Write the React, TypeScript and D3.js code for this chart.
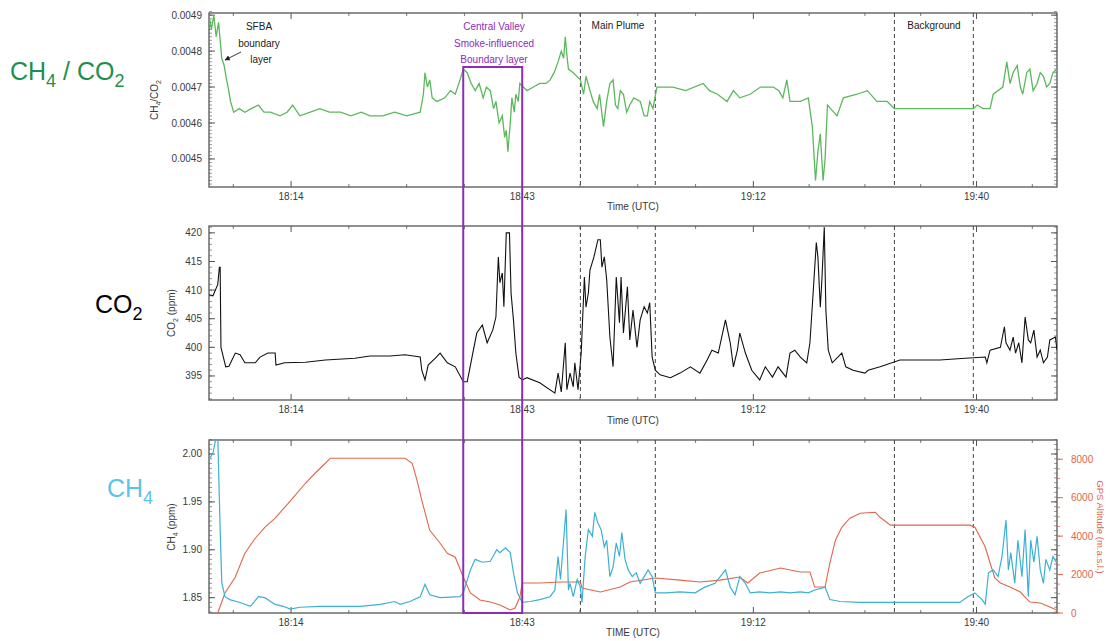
import React from 'react';
import * as d3 from 'd3';

// minutes after 18:00 UTC
const timeTicks = [14, 43, 72, 100];
const timeLabels = ['18:14', '18:43', '19:12', '19:40'];
const minorTimeTicks = [6.75, 21.25, 28.5, 35.75, 50.25, 57.5, 64.75, 79, 86, 93, 107];

const ratioTicks = [0.0045, 0.0046, 0.0047, 0.0048, 0.0049];
const co2Ticks = [395, 400, 405, 410, 415, 420];
const ch4Ticks = [1.85, 1.9, 1.95, 2.0];
const altTicks = [0, 2000, 4000, 6000, 8000];

const eventLines = [50.3, 59.7, 89.7, 99.6];
const smokeBox = [35.6, 43.0];

const ratioSeries: [number, number][] = [
  [3.7, 0.0049], [4.0, 0.00486], [4.3, 0.0049], [4.6, 0.00484], [4.9, 0.00488], [5.3, 0.00478],
  [5.6, 0.00476], [5.9, 0.00472], [6.1, 0.0047], [6.4, 0.00466], [6.8, 0.00463], [7.5, 0.00464],
  [8.2, 0.00463], [9.0, 0.00464], [9.9, 0.00465], [10.6, 0.00463], [11.4, 0.00463], [12.6, 0.00462],
  [13.5, 0.00463], [14.2, 0.00465], [15.1, 0.00462], [16.4, 0.00463], [17.6, 0.00464], [18.8, 0.00463],
  [20.2, 0.00463], [21.5, 0.00462], [22.8, 0.00463], [23.9, 0.00462], [25.5, 0.00462], [27.0, 0.00463],
  [28.5, 0.00462], [30.2, 0.00463], [30.6, 0.00468], [30.8, 0.00474], [31.1, 0.0047], [31.4, 0.00472],
  [31.7, 0.00467], [32.3, 0.00466], [33.3, 0.00467], [34.0, 0.00469], [34.6, 0.00468], [35.2, 0.00472],
  [35.6, 0.00475], [36.1, 0.00474], [36.6, 0.00471], [37.1, 0.00469], [37.6, 0.00471], [38.1, 0.00467],
  [38.5, 0.0047], [39.0, 0.00469], [39.4, 0.00464], [39.7, 0.00466], [40.1, 0.0046], [40.5, 0.00462],
  [40.8, 0.00456], [41.0, 0.00458], [41.2, 0.00452], [41.5, 0.0046], [41.7, 0.00467], [42.0, 0.00463],
  [42.2, 0.00468], [42.5, 0.00466], [42.7, 0.00471], [43.6, 0.00469], [44.4, 0.0047], [45.2, 0.00471],
  [46.0, 0.00471], [46.5, 0.00472], [47.0, 0.00474], [47.5, 0.00477], [47.9, 0.0048], [48.2, 0.00478],
  [48.4, 0.00484], [48.6, 0.00479], [48.8, 0.00475], [49.4, 0.00474], [50.3, 0.00472], [50.7, 0.00468],
  [51.0, 0.00473], [51.5, 0.00469], [51.9, 0.00466], [52.4, 0.00464], [52.7, 0.00468], [53.2, 0.00459],
  [53.6, 0.00466], [54.0, 0.00471], [54.4, 0.00472], [54.7, 0.00465], [55.0, 0.00464], [55.3, 0.00469],
  [55.7, 0.00468], [56.1, 0.00463], [56.5, 0.00465], [57.0, 0.00467], [57.8, 0.00466], [58.3, 0.00462],
  [58.7, 0.00462], [59.0, 0.00466], [59.4, 0.00464], [59.9, 0.0047], [61.0, 0.0047], [61.9, 0.0047],
  [63.5, 0.00469], [65.7, 0.00471], [66.5, 0.00469], [67.5, 0.00468], [68.7, 0.00466], [69.5, 0.00469],
  [70.3, 0.00467], [71.6, 0.00468], [72.9, 0.0047], [74.5, 0.0047], [75.2, 0.00469], [75.7, 0.00467],
  [76.2, 0.00472], [76.6, 0.00466], [77.9, 0.00466], [78.9, 0.00467], [79.4, 0.00459], [79.8, 0.00444],
  [80.1, 0.00452], [80.4, 0.00457], [80.75, 0.00444], [81.0, 0.0045], [81.3, 0.00465], [82.5, 0.00462],
  [83.3, 0.00467], [85.0, 0.00468], [86.3, 0.00469], [87.5, 0.00466], [88.8, 0.00466], [89.7, 0.00464],
  [99.6, 0.00464], [100.1, 0.00465], [100.8, 0.00464], [101.7, 0.00464], [102.1, 0.00468], [103.3, 0.0047],
  [103.8, 0.00477], [104.2, 0.00471], [104.6, 0.00474], [105.1, 0.00476], [105.5, 0.0047], [105.8, 0.00468],
  [106.3, 0.00474], [106.7, 0.00475], [107.1, 0.00469], [107.6, 0.00471], [108.0, 0.00474], [108.4, 0.00473],
  [108.8, 0.0047], [109.2, 0.00471], [109.6, 0.00474], [110.1, 0.00475],
];

const co2Series: [number, number][] = [
  [3.7, 409.2], [4.2, 409.0], [4.8, 411.0], [5.0, 414.0], [5.1, 414.0], [5.2, 400.0], [5.5, 398.3],
  [5.8, 396.6], [6.2, 396.7], [7.0, 399.0], [7.6, 398.7], [8.2, 397.3], [9.5, 397.3], [10.1, 398.3],
  [11.1, 399.0], [12.0, 399.0], [12.1, 396.9], [13.2, 397.3], [15.8, 397.4], [18.3, 397.8], [22.0, 398.1],
  [23.9, 398.5], [26.4, 398.5], [28.3, 398.7], [30.2, 398.3], [30.4, 396.0], [30.8, 394.3], [31.2, 396.9],
  [32.1, 398.1], [32.7, 399.0], [33.6, 397.3], [34.6, 396.6], [35.6, 394.0], [36.1, 394.0], [36.8, 399.0],
  [37.3, 402.5], [38.0, 403.9], [38.6, 400.8], [39.3, 403.0], [39.7, 405.3], [40.0, 415.8], [40.2, 411.3],
  [40.5, 413.0], [40.7, 407.1], [41.0, 420.0], [41.4, 420.0], [41.6, 409.5], [41.9, 404.8], [42.2, 399.0],
  [42.6, 394.8], [43.0, 394.3], [43.6, 394.7], [45.2, 393.8], [47.1, 392.0], [47.5, 395.5], [47.9, 392.2],
  [48.4, 400.8], [48.6, 392.6], [49.0, 395.5], [49.4, 393.1], [49.6, 397.3], [50.0, 392.6], [50.4, 399.0],
  [50.8, 412.3], [51.0, 407.0], [51.3, 409.5], [51.5, 413.5], [52.0, 415.8], [52.5, 418.8], [52.8, 418.8],
  [53.0, 414.0], [53.3, 415.8], [53.6, 411.8], [54.0, 401.8], [54.4, 396.6], [54.8, 412.3], [55.2, 404.3],
  [55.4, 412.3], [55.7, 402.5], [56.2, 410.6], [56.5, 401.3], [56.9, 406.5], [57.4, 400.0], [57.8, 404.8],
  [58.3, 407.1], [58.7, 406.0], [59.0, 407.8], [59.3, 398.3], [59.7, 396.0], [60.3, 395.2], [61.6, 394.7],
  [62.8, 395.5], [64.1, 396.6], [65.3, 395.5], [66.2, 397.8], [66.8, 399.5], [67.6, 399.0], [68.5, 404.8],
  [69.1, 400.8], [69.5, 396.6], [70.0, 399.5], [70.3, 402.5], [71.0, 399.0], [71.8, 396.0], [72.8, 394.3],
  [73.5, 396.6], [74.4, 394.8], [75.1, 396.6], [76.1, 394.8], [76.6, 399.0], [77.2, 399.5], [77.9, 398.3],
  [78.7, 397.3], [79.1, 400.8], [79.5, 409.5], [79.9, 418.3], [80.1, 415.8], [80.4, 407.0], [80.6, 411.8],
  [80.9, 421.0], [81.1, 406.5], [81.4, 399.5], [81.9, 397.3], [82.6, 398.3], [83.1, 399.0], [83.6, 396.6],
  [84.5, 396.0], [86.0, 395.5], [86.4, 396.0], [87.9, 396.6], [90.4, 397.8], [95.4, 397.8], [98.6, 398.1],
  [101.1, 398.3], [101.3, 397.3], [101.7, 399.5], [103.0, 400.0], [103.5, 403.6], [103.7, 400.8],
  [104.2, 399.5], [104.6, 401.8], [104.9, 399.0], [105.3, 400.8], [105.7, 397.3], [106.1, 405.3],
  [106.5, 401.3], [106.8, 400.8], [107.2, 403.0], [107.6, 398.3], [108.0, 399.5], [108.4, 397.3],
  [108.9, 398.3], [109.2, 401.3], [109.9, 401.8], [110.1, 399.5],
];

const ch4Series: [number, number][] = [
  [3.7, 1.994], [4.2, 2.001], [4.6, 2.018], [4.8, 2.018], [5.1, 1.921], [5.3, 1.866], [5.7, 1.851],
  [6.3, 1.848], [7.6, 1.845], [8.9, 1.841], [9.9, 1.851], [10.7, 1.85], [12.0, 1.843], [13.0, 1.841],
  [13.9, 1.838], [15.1, 1.84], [17.6, 1.841], [20.1, 1.841], [22.7, 1.841], [25.2, 1.843], [27.0, 1.846],
  [27.7, 1.843], [28.9, 1.846], [30.2, 1.851], [30.8, 1.864], [31.4, 1.853], [32.7, 1.85], [35.2, 1.851],
  [35.6, 1.855], [36.5, 1.879], [37.1, 1.89], [38.0, 1.887], [39.0, 1.888], [39.8, 1.9], [40.2, 1.897],
  [40.9, 1.902], [41.5, 1.897], [41.9, 1.876], [42.4, 1.855], [43.0, 1.845], [44.0, 1.846], [45.2, 1.848],
  [46.5, 1.851], [47.1, 1.858], [47.5, 1.893], [47.8, 1.869], [48.1, 1.9], [48.5, 1.942], [48.8, 1.858],
  [49.0, 1.865], [49.4, 1.851], [49.9, 1.869], [50.3, 1.861], [50.5, 1.845], [50.9, 1.893], [51.3, 1.921],
  [51.8, 1.914], [52.1, 1.939], [52.5, 1.928], [52.9, 1.921], [53.3, 1.903], [53.6, 1.91], [54.0, 1.872],
  [54.4, 1.882], [54.8, 1.907], [55.2, 1.893], [55.5, 1.918], [55.9, 1.89], [56.3, 1.879], [56.8, 1.872],
  [57.3, 1.876], [57.8, 1.865], [58.3, 1.872], [58.8, 1.879], [59.3, 1.872], [59.7, 1.855], [61.0, 1.855],
  [62.8, 1.856], [64.7, 1.855], [65.9, 1.861], [67.2, 1.865], [68.5, 1.879], [69.1, 1.861], [69.7, 1.853],
  [70.3, 1.872], [71.0, 1.865], [71.6, 1.855], [72.8, 1.856], [74.1, 1.855], [75.4, 1.856], [76.6, 1.855],
  [77.9, 1.856], [78.9, 1.855], [79.7, 1.858], [81.0, 1.861], [81.6, 1.848], [82.9, 1.846], [85.4, 1.845],
  [87.9, 1.845], [90.4, 1.845], [94.2, 1.845], [97.9, 1.845], [98.9, 1.851], [99.8, 1.855], [100.7, 1.848],
  [101.1, 1.843], [101.5, 1.876], [102.1, 1.879], [102.7, 1.872], [103.2, 1.893], [103.7, 1.931],
  [104.0, 1.879], [104.3, 1.897], [104.8, 1.865], [105.2, 1.91], [105.7, 1.872], [106.1, 1.921],
  [106.5, 1.851], [106.8, 1.91], [107.2, 1.887], [107.6, 1.914], [108.0, 1.879], [108.4, 1.865],
  [108.7, 1.89], [109.2, 1.879], [109.6, 1.893], [110.0, 1.887],
];

const altSeries: [number, number][] = [
  [4.8, 0], [5.7, 1040], [7.0, 1870], [8.2, 3110], [9.5, 3890], [10.7, 4460], [12.0, 4930], [13.2, 5500],
  [14.5, 6120], [15.8, 6750], [17.0, 7270], [18.3, 7790], [18.9, 8050], [20.1, 8050], [22.7, 8050],
  [25.2, 8050], [27.7, 8050], [28.3, 8050], [29.2, 7790], [29.8, 6900], [30.4, 5860], [31.4, 4300],
  [32.7, 3630], [33.6, 3110], [34.6, 2900], [35.6, 1870], [36.5, 1040], [37.7, 675], [39.0, 570],
  [40.2, 415], [41.5, 155], [42.1, 260], [42.7, 830], [43.0, 1560], [45.2, 1560], [47.8, 1610],
  [50.3, 1610], [50.5, 1300], [52.8, 1090], [55.3, 1350], [56.5, 1610], [59.7, 1820], [62.8, 1710],
  [65.3, 1610], [67.8, 1710], [70.3, 1870], [71.3, 1560], [72.8, 2080], [75.4, 2340], [77.9, 2130],
  [79.1, 2130], [79.7, 1350], [81.0, 1350], [81.6, 2600], [82.3, 3790], [83.1, 4460], [84.1, 4930],
  [85.4, 5190], [87.3, 5240], [87.9, 4980], [89.2, 4570], [90.4, 4570], [95.4, 4570], [99.2, 4570],
  [99.8, 4460], [101.1, 3430], [101.7, 2600], [102.3, 1820], [103.0, 1560], [104.2, 1350], [105.5, 1090],
  [106.1, 830], [106.7, 570], [108.0, 520], [109.2, 310], [110.1, 155],
];

const W = 1112;
const H = 641;
const LEFT = 209;
const RIGHT = 1057;
const FONT = 'Liberation Sans, Arial, sans-serif';
const AXIS = '#555';
const TXT = '#3a3a3a';
const PURPLE = '#8e2cb8';
const ALT_RED = '#e0664a';

const panels = {
  ratio: { top: 13, bottom: 187 },
  co2: { top: 226, bottom: 400 },
  ch4: { top: 440, bottom: 613 },
};

const x = d3.scaleLinear().domain([3.7, 110.1]).range([LEFT, RIGHT]);
const yRatio = d3.scaleLinear().domain([0.004422, 0.004906]).range([panels.ratio.bottom, panels.ratio.top]);
const yCo2 = d3.scaleLinear().domain([390.8, 421.2]).range([panels.co2.bottom, panels.co2.top]);
const yCh4 = d3.scaleLinear().domain([1.834, 2.0146]).range([panels.ch4.bottom, panels.ch4.top]);
const yAlt = d3.scaleLinear().domain([0, 9000]).range([panels.ch4.bottom, panels.ch4.top]);

const linePath = (data: [number, number][], y: d3.ScaleLinear<number, number>) =>
  d3.line<[number, number]>().x(d => x(d[0])).y(d => y(d[1]))(data) || '';

const Frame = ({ id, top, bottom, y, ticks, minor, fmt }: any) => {
  const minorVals = d3.range(y.domain()[0], y.domain()[1], minor).map((v: number) => Math.ceil(v / minor) * minor);
  return (
    <g>
      <clipPath id={id}>
        <rect x={LEFT} y={top} width={RIGHT - LEFT} height={bottom - top} />
      </clipPath>
      <rect x={LEFT} y={top} width={RIGHT - LEFT} height={bottom - top} fill="none" stroke={AXIS} strokeWidth={1.3} />
      {/* time ticks, bottom and top */}
      {timeTicks.map(t => (
        <g key={'M' + t} stroke={AXIS} strokeWidth={1}>
          <line x1={x(t)} x2={x(t)} y1={bottom} y2={bottom - 6} />
          <line x1={x(t)} x2={x(t)} y1={top} y2={top + 6} />
        </g>
      ))}
      {minorTimeTicks.map(t => (
        <g key={'m' + t} stroke={AXIS} strokeWidth={0.8}>
          <line x1={x(t)} x2={x(t)} y1={bottom} y2={bottom - 3} />
          <line x1={x(t)} x2={x(t)} y1={top} y2={top + 3} />
        </g>
      ))}
      {timeTicks.map((t, i) => (
        <text key={'l' + t} x={x(t)} y={bottom + 13} textAnchor="middle" fontSize={10} fill={TXT} fontFamily={FONT}>
          {timeLabels[i]}
        </text>
      ))}
      {/* y minor ticks both sides */}
      {minorVals.map((v: number, i: number) => (
        <g key={'y' + i} stroke={AXIS} strokeWidth={0.6}>
          <line x1={LEFT} x2={LEFT + 3} y1={y(v)} y2={y(v)} />
          <line x1={RIGHT} x2={RIGHT - 3} y1={y(v)} y2={y(v)} />
        </g>
      ))}
      {ticks.map((v: number) => (
        <g key={'Y' + v}>
          <line x1={LEFT} x2={LEFT + 6} y1={y(v)} y2={y(v)} stroke={AXIS} />
          <line x1={RIGHT} x2={RIGHT - 6} y1={y(v)} y2={y(v)} stroke={AXIS} />
          <text x={LEFT - 7} y={y(v) + 3.5} textAnchor="end" fontSize={10} fill={TXT} fontFamily={FONT}>
            {fmt(v)}
          </text>
        </g>
      ))}
      {eventLines.map(t => (
        <line key={'e' + t} x1={x(t)} x2={x(t)} y1={top} y2={bottom} stroke="#444" strokeWidth={1} strokeDasharray="4,3" />
      ))}
    </g>
  );
};

export default function App() {
  const altMinor = d3.range(0, 9000, 500);
  return (
    <svg width={W} height={H} style={{ position: 'absolute', left: 0, top: 0, background: '#fff' }} fontFamily={FONT}>
      <rect width={W} height={H} fill="#fff" />

      {/* panel 1: CH4/CO2 */}
      <Frame id="c1" {...panels.ratio} y={yRatio} ticks={ratioTicks} minor={0.00001} fmt={(v: number) => v.toFixed(4)} />
      <path d={linePath(ratioSeries, yRatio)} fill="none" stroke="#5cb85c" strokeWidth={1.3} clipPath="url(#c1)" />
      <text x={633} y={210} textAnchor="middle" fontSize={10} fill={TXT}>Time (UTC)</text>
      <text transform="translate(158,100) rotate(-90)" textAnchor="middle" fontSize={10} fill={TXT}>
        CH<tspan dy={3} fontSize={7}>4</tspan><tspan dy={-3}>/CO</tspan><tspan dy={3} fontSize={7}>2</tspan>
      </text>

      {/* panel 2: CO2 */}
      <Frame id="c2" {...panels.co2} y={yCo2} ticks={co2Ticks} minor={1} fmt={(v: number) => String(v)} />
      <path d={linePath(co2Series, yCo2)} fill="none" stroke="#111" strokeWidth={1.1} clipPath="url(#c2)" />
      <text x={633} y={424} textAnchor="middle" fontSize={10} fill={TXT}>Time (UTC)</text>
      <text transform="translate(175,313) rotate(-90)" textAnchor="middle" fontSize={10} fill={TXT}>
        CO<tspan dy={3} fontSize={7}>2</tspan><tspan dy={-3}> (ppm)</tspan>
      </text>

      {/* panel 3: CH4 + altitude */}
      <Frame id="c3" {...panels.ch4} y={yCh4} ticks={ch4Ticks} minor={0.005} fmt={(v: number) => v.toFixed(2)} />
      <path d={linePath(altSeries, yAlt)} fill="none" stroke={ALT_RED} strokeWidth={1.1} clipPath="url(#c3)" />
      <path d={linePath(ch4Series, yCh4)} fill="none" stroke="#3cb0d2" strokeWidth={1.2} clipPath="url(#c3)" />
      {altMinor.map(v => (
        <line key={'am' + v} x1={RIGHT} x2={RIGHT + 3} y1={yAlt(v)} y2={yAlt(v)} stroke={ALT_RED} strokeWidth={0.8} />
      ))}
      {altTicks.map(v => (
        <g key={'a' + v}>
          <line x1={RIGHT} x2={RIGHT + 6} y1={yAlt(v)} y2={yAlt(v)} stroke={ALT_RED} />
          <text x={RIGHT + 14} y={yAlt(v) + 3.5} fontSize={10} fill={ALT_RED}>{v}</text>
        </g>
      ))}
      <text transform="translate(1097,527) rotate(90)" textAnchor="middle" fontSize={9.5} fill={ALT_RED}>
        GPS Altitude (m.a.s.l.)
      </text>
      <text x={633} y={636} textAnchor="middle" fontSize={10} fill={TXT}>TIME (UTC)</text>
      <text transform="translate(175,527) rotate(-90)" textAnchor="middle" fontSize={10} fill={TXT}>
        CH<tspan dy={3} fontSize={7}>4</tspan><tspan dy={-3}> (ppm)</tspan>
      </text>

      {/* smoke-influenced boundary layer box */}
      <rect x={x(smokeBox[0])} y={67} width={x(smokeBox[1]) - x(smokeBox[0])} height={panels.ch4.bottom - 67}
        fill="none" stroke={PURPLE} strokeWidth={2} />
      <g fontSize={10} fill={PURPLE} textAnchor="middle">
        <text x={494} y={30}>Central Valley</text>
        <text x={494} y={47}>Smoke-influenced</text>
        <text x={494} y={63}>Boundary layer</text>
      </g>

      {/* annotations */}
      <g fontSize={10} fill="#222" textAnchor="middle">
        <text x={259} y={30}>SFBA</text>
        <text x={259} y={47}>boundary</text>
        <text x={261} y={63}>layer</text>
        <text x={618} y={29}>Main Plume</text>
        <text x={934} y={29}>Background</text>
      </g>
      <defs>
        <marker id="arr" viewBox="0 0 10 10" refX="9" refY="5" markerWidth="6" markerHeight="6" orient="auto">
          <path d="M0,0 L10,5 L0,10 z" fill="#222" />
        </marker>
      </defs>
      <line x1={241} y1={52} x2={225} y2={60} stroke="#222" strokeWidth={0.9} markerEnd="url(#arr)" />

      {/* big side labels */}
      <text x={10} y={80} fontSize={25} fill="#1f8f4e">
        CH<tspan dy={7} fontSize={18}>4</tspan><tspan dy={-7}> / CO</tspan><tspan dy={7} fontSize={18}>2</tspan>
      </text>
      <text x={95} y={313} fontSize={25} fill="#000">
        CO<tspan dy={7} fontSize={18}>2</tspan>
      </text>
      <text x={107} y={497} fontSize={25} fill="#5cc3ea">
        CH<tspan dy={7} fontSize={18}>4</tspan>
      </text>
    </svg>
  );
}
